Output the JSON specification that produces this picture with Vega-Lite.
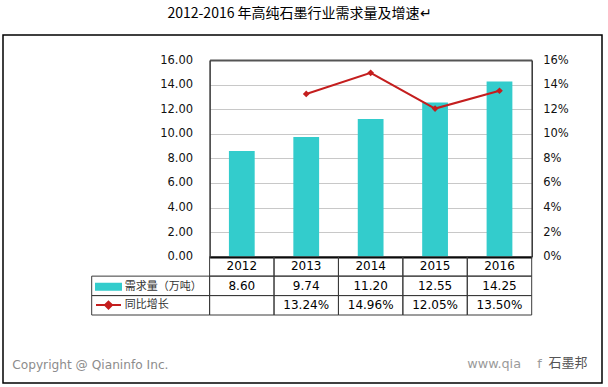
{
  "$schema": "https://vega.github.io/schema/vega-lite/v6.json",
  "width": 599,
  "height": 348,
  "autosize": {"type": "none"},
  "padding": {"left": 3, "top": 35, "right": 6, "bottom": 4},
  "background": "#ffffff",
  "title": {
    "text": "2012-2016 年高纯石墨行业需求量及增速↵",
    "font": "Noto Sans CJK SC",
    "fontSize": 14,
    "fontWeight": "normal",
    "color": "#000000",
    "anchor": "middle",
    "offset": 14,
    "dx": -3
  },
  "data": {
    "values": [
      {"year": "2012", "demand": 8.60, "growth": null},
      {"year": "2013", "demand": 9.74, "growth": 0.1324},
      {"year": "2014", "demand": 11.20, "growth": 0.1496},
      {"year": "2015", "demand": 12.55, "growth": 0.1205},
      {"year": "2016", "demand": 14.25, "growth": 0.1350}
    ]
  },
  "config": {
    "view": {"stroke": "#000000", "strokeWidth": 1.5},
    "axis": {"labelFont": "DejaVu Sans", "labelFontSize": 11.5, "labelColor": "#111111"}
  },
  "resolve": {"scale": {"x": "independent", "y": "independent"}},
  "layer": [
    {
      "mark": {"type": "bar", "width": {"band": 0.4}},
      "encoding": {
        "x": {
          "field": "year", "type": "nominal",
          "scale": {"domain": ["2012", "2013", "2014", "2015", "2016"], "range": [206.6, 528.7], "paddingInner": 0, "paddingOuter": 0},
          "axis": {"orient": "bottom", "offset": 0, "domain": false, "ticks": false, "labels": false, "grid": false,
            "title": "Copyright @ Qianinfo Inc.", "titleX": 8.7, "titleY": -15, "titleAlign": "left", "titleAnchor": "start",
            "titleBaseline": "alphabetic", "titleFont": "DejaVu Sans", "titleFontSize": 12.2, "titleFontWeight": "normal", "titleColor": "#8c8c8c"}
        },
        "y": {
          "field": "demand", "type": "quantitative",
          "scale": {"domain": [0, 16], "range": [221.7, 25], "nice": false},
          "axis": {"orient": "left", "offset": -206.6, "values": [0, 2, 4, 6, 8, 10, 12, 14, 16], "format": ".2f",
            "ticks": false, "labelPadding": 17, "domainColor": "#333333", "domainWidth": 1.5, "title": null,
            "grid": true,
            "gridColor": {"condition": [{"test": "datum.value === 0", "value": "#000000"}, {"test": "datum.value === 16", "value": "#555555"}], "value": "#c8c8c8"},
            "gridWidth": {"condition": {"test": "datum.value === 0 || datum.value === 16", "value": 2}, "value": 1}}
        },
        "color": {
          "datum": "需求量（万吨）", "type": "nominal",
          "scale": {"domain": ["需求量（万吨）", "同比增长"], "range": ["#33CCCC", "#C41E1E"]},
          "legend": {
            "orient": "none", "legendX": 95, "legendY": 241.2, "title": null, "padding": 0, "rowPadding": 0.4,
            "symbolSize": 361, "labelOffset": 5.7, "labelFont": "Noto Sans CJK SC", "labelFontSize": 11, "labelColor": "#333333",
            "symbolStrokeWidth": 2,
            "encode": {
              "symbols": {
                "update": {
                  "shape": {"signal": "datum.value === '同比增长' ? 'M-1.316,0H1.316M0,-0.37L0.37,0L0,0.37L-0.37,0Z' : 'M-1.316,-0.316H1.316V0.316H-1.316Z'"},
                  "fill": {"scale": "color", "field": "value"},
                  "stroke": {"scale": "color", "field": "value"},
                  "opacity": {"value": 1},
                  "strokeWidth": {"value": 2}
                }
              }
            }
          }
        }
      }
    },
    {
      "mark": {"type": "line", "strokeWidth": 2, "point": {"shape": "diamond", "size": 45, "filled": true}},
      "encoding": {
        "x": {
          "field": "year", "type": "nominal",
          "scale": {"domain": ["2012", "2013", "2014", "2015", "2016"], "range": [206.6, 528.7], "paddingInner": 0, "paddingOuter": 0},
          "axis": {"orient": "bottom", "offset": 0, "domain": false, "ticks": false, "labels": false, "grid": false,
            "title": "www.qia\u00a0\u00a0\u00a0\u00a0f", "titleX": 463.7, "titleY": -16, "titleAlign": "left", "titleAnchor": "start",
            "titleBaseline": "alphabetic", "titleFont": "DejaVu Sans", "titleFontSize": 12.8, "titleFontWeight": "normal", "titleColor": "#9a9a9a"}
        },
        "y": {
          "field": "growth", "type": "quantitative",
          "scale": {"domain": [0, 0.16], "range": [221.7, 25], "nice": false},
          "axis": {"orient": "right", "offset": -70.3, "values": [0, 0.02, 0.04, 0.06, 0.08, 0.1, 0.12, 0.14, 0.16], "format": ".0%",
            "ticks": false, "labelPadding": 11, "labelAlign": "left", "domainColor": "#333333", "domainWidth": 1.5, "grid": false, "title": null}
        },
        "color": {"datum": "同比增长", "type": "nominal"}
      }
    },
    {
      "transform": [{"fold": ["year", "demand", "growth"], "as": ["row", "value"]}],
      "mark": {"type": "rect", "fill": "transparent", "stroke": "#3a3a3a", "strokeWidth": 1},
      "encoding": {
        "x": {"field": "year", "type": "nominal", "scale": {"domain": ["2012", "2013", "2014", "2015", "2016"], "range": [206.6, 528.7], "paddingInner": 0, "paddingOuter": 0}, "axis": null},
        "y": {"field": "row", "type": "nominal", "scale": {"domain": ["year", "demand", "growth"], "range": [221.7, 280], "paddingInner": 0, "paddingOuter": 0}, "axis": null}
      }
    },
    {
      "transform": [
        {"fold": ["demand", "growth"], "as": ["row", "value"]},
        {"aggregate": [{"op": "count", "as": "n"}], "groupby": ["row"]}
      ],
      "mark": {"type": "rect", "fill": "transparent", "stroke": "#3a3a3a", "strokeWidth": 1},
      "encoding": {
        "x": {"datum": "图例", "type": "nominal", "scale": {"domain": ["图例"], "range": [88.7, 206.6], "paddingInner": 0, "paddingOuter": 0},
          "axis": {"orient": "bottom", "offset": 0, "domain": false, "ticks": false, "labels": false, "grid": false,
            "title": "石墨邦", "titleX": 545, "titleY": -17, "titleAlign": "left", "titleAnchor": "start",
            "titleBaseline": "alphabetic", "titleFont": "Noto Sans CJK SC", "titleFontSize": 13, "titleFontWeight": "normal", "titleColor": "#555555"}},
        "y": {"field": "row", "type": "nominal", "scale": {"domain": ["year", "demand", "growth"], "range": [221.7, 280], "paddingInner": 0, "paddingOuter": 0}, "axis": null}
      }
    },
    {
      "mark": {"type": "text", "font": "DejaVu Sans", "fontSize": 12, "color": "#000000"},
      "encoding": {
        "x": {"field": "year", "type": "nominal", "scale": {"domain": ["2012", "2013", "2014", "2015", "2016"], "range": [206.6, 528.7], "paddingInner": 0, "paddingOuter": 0}, "axis": null},
        "y": {"datum": "year", "type": "nominal", "scale": {"domain": ["year", "demand", "growth"], "range": [221.7, 280], "paddingInner": 0, "paddingOuter": 0}, "axis": null},
        "text": {"field": "year", "type": "nominal"}
      }
    },
    {
      "mark": {"type": "text", "font": "DejaVu Sans", "fontSize": 12, "color": "#000000"},
      "encoding": {
        "x": {"field": "year", "type": "nominal", "scale": {"domain": ["2012", "2013", "2014", "2015", "2016"], "range": [206.6, 528.7], "paddingInner": 0, "paddingOuter": 0}, "axis": null},
        "y": {"datum": "demand", "type": "nominal", "scale": {"domain": ["year", "demand", "growth"], "range": [221.7, 280], "paddingInner": 0, "paddingOuter": 0}, "axis": null},
        "text": {"field": "demand", "type": "quantitative", "format": ".2f"}
      }
    },
    {
      "transform": [{"filter": "isValid(datum.growth)"}],
      "mark": {"type": "text", "font": "DejaVu Sans", "fontSize": 12, "color": "#000000"},
      "encoding": {
        "x": {"field": "year", "type": "nominal", "scale": {"domain": ["2012", "2013", "2014", "2015", "2016"], "range": [206.6, 528.7], "paddingInner": 0, "paddingOuter": 0}, "axis": null},
        "y": {"datum": "growth", "type": "nominal", "scale": {"domain": ["year", "demand", "growth"], "range": [221.7, 280], "paddingInner": 0, "paddingOuter": 0}, "axis": null},
        "text": {"field": "growth", "type": "quantitative", "format": ".2%"}
      }
    }
  ]
}
